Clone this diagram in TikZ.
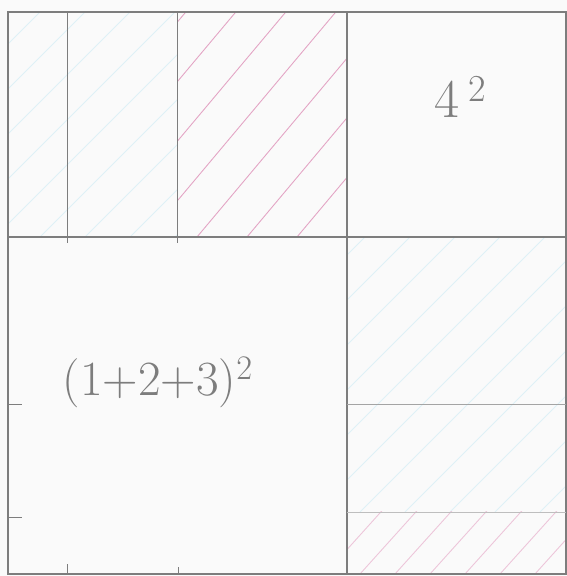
\documentclass[tikz,border=0pt]{standalone}
\usepackage{tikz}
\usetikzlibrary{calc}
\definecolor{pencil}{RGB}{125,125,125}
\definecolor{paper}{RGB}{250,250,250}
\definecolor{hatchpink}{RGB}{215,125,170}
\definecolor{hatchblue}{RGB}{160,215,228}

\begin{document}
\begin{tikzpicture}[x=0.02cm, y=0.02cm]
    \useasboundingbox (0,0) rectangle (567,576);
    \fill[paper] (0,0) rectangle (567,576);

    % hatching, top middle strip (pink)
    \begin{scope}
        \clip (177,339) rectangle (347,564);
        \foreach \x in {-3,47,...,347}
            \draw[hatchpink!70, line width=0.5pt] (\x,339) -- ++(50:320);
    \end{scope}
    % hatching, top left strip (blue)
    \begin{scope}
        \clip (8,339) rectangle (177,564);
        \foreach \x in {-230,-185,...,177}
            \draw[hatchblue!35, line width=0.5pt] (\x,339) -- ++(45:340);
    \end{scope}
    % hatching, right middle (blue)
    \begin{scope}
        \clip (347,64) rectangle (566,339);
        \foreach \x in {90,135,...,566}
            \draw[hatchblue!35, line width=0.5pt] (\x,64) -- ++(45:400);
    \end{scope}
    % hatching, bottom right band (pink)
    \begin{scope}
        \clip (347,2) rectangle (566,64);
        \foreach \x in {290,325,...,566}
            \draw[hatchpink!45, line width=0.5pt] (\x,2) -- ++(48:100);
    \end{scope}

    % big square and dividing lines
    \draw[pencil, line width=0.6pt] (8,2) rectangle (566,564);
    \draw[pencil, line width=0.6pt] (347,2) -- (347,564);
    \draw[pencil, line width=0.6pt] (8,339) -- (566,339);
    \draw[pencil, line width=0.5pt] (67,333) -- (67,564);
    \draw[pencil, line width=0.5pt] (177,333) -- (177,564);
    \draw[pencil!70, line width=0.5pt] (347,172) -- (566,172);
    \draw[pencil!50, line width=0.4pt] (347,64) -- (566,64);

    % ticks
    \draw[pencil, line width=0.5pt] (8,172) -- (22,172);
    \draw[pencil, line width=0.5pt] (8,59) -- (22,59);
    \draw[pencil, line width=0.5pt] (67,2) -- (67,12);
    \draw[pencil, line width=0.5pt] (178,2) -- (178,9);

    % labels
    \node[pencil] (sqfour) at (461,479) {\fontsize{31}{34}\selectfont 4\,\textsuperscript{2}};
    \node[pencil] (sqsum) at (158,194) {\fontsize{28}{32}\selectfont (1+2+3)\textsuperscript{2}};
\end{tikzpicture}
\end{document}
